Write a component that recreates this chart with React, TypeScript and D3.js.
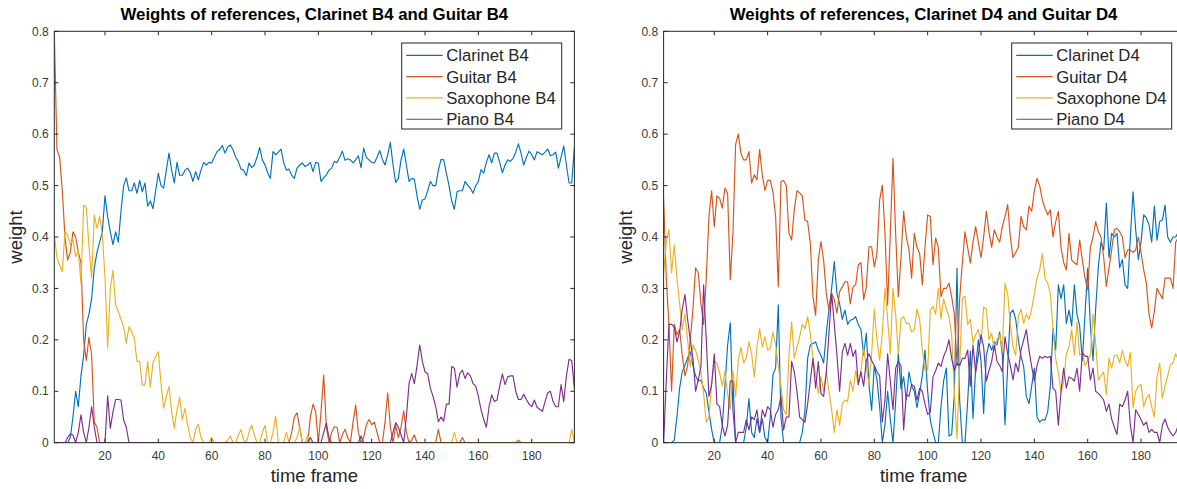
import React from "react";
import * as d3 from "d3";

// ---------- data ----------
const frames: number[] = Array.from({ length: 196 }, (_, i) => i + 1);

const clarinetB4: number[] = [
  0,0,0,0,0,0,0.01,0.05,0.1,0.07,
  0.13,0.17,0.23,0.25,0.28,0.34,0.37,0.39,0.41,0.48,
  0.44,0.41,0.385,0.41,0.39,0.45,0.5,0.515,0.49,0.49,
  0.505,0.485,0.51,0.488,0.505,0.46,0.47,0.455,0.49,0.524,
  0.5,0.495,0.53,0.563,0.53,0.505,0.545,0.52,0.52,0.53,
  0.534,0.525,0.508,0.527,0.511,0.53,0.545,0.54,0.545,0.544,
  0.555,0.566,0.57,0.578,0.563,0.575,0.579,0.57,0.555,0.547,
  0.532,0.53,0.519,0.544,0.535,0.54,0.555,0.574,0.55,0.54,
  0.525,0.514,0.566,0.56,0.565,0.571,0.545,0.53,0.532,0.52,
  0.514,0.534,0.54,0.544,0.537,0.54,0.545,0.527,0.545,0.544,
  0.508,0.515,0.521,0.53,0.534,0.547,0.545,0.555,0.567,0.549,
  0.552,0.55,0.544,0.55,0.558,0.535,0.573,0.555,0.55,0.545,
  0.544,0.555,0.568,0.551,0.54,0.56,0.584,0.54,0.506,0.514,
  0.55,0.571,0.54,0.508,0.514,0.512,0.48,0.454,0.472,0.474,
  0.49,0.508,0.5,0.5,0.53,0.551,0.55,0.524,0.5,0.47,
  0.454,0.488,0.49,0.49,0.508,0.501,0.495,0.485,0.5,0.508,
  0.531,0.524,0.545,0.56,0.544,0.563,0.563,0.545,0.525,0.54,
  0.55,0.547,0.553,0.565,0.581,0.563,0.54,0.555,0.567,0.56,
  0.55,0.566,0.563,0.56,0.565,0.571,0.558,0.56,0.565,0.534,
  0.555,0.577,0.54,0.505,0.505,0.575,
];

const guitarB4: number[] = [
  0.8,0.57,0.555,0.49,0.4,0.355,0.37,0.41,0.4,0.37,
  0.35,0.2,0.16,0.205,0.17,0.04,0.03,0,0,0,
  0,0,0,0,0,0,0,0,0,0,
  0,0,0,0,0,0,0,0,0,0,
  0,0,0,0,0,0,0,0,0,0,
  0,0,0,0,0,0,0,0,0,0,
  0,0,0,0,0,0,0,0,0,0,
  0,0,0,0,0,0,0,0,0,0,
  0,0,0,0,0,0,0,0,0,0.02,
  0.05,0.058,0.03,0,0,0,0.05,0.075,0.06,0,
  0.06,0.132,0.03,0,0.02,0.031,0.03,0,0.015,0.026,
  0.01,0,0.04,0.073,0.02,0,0.01,0.035,0.045,0.035,
  0.04,0.02,0,0,0.04,0.097,0.03,0,0.033,0.01,
  0.03,0.062,0.02,0,0.005,0.015,0,0,0,0,
  0,0,0,0,0.026,0,0,0,0,0,
  0,0,0,0.01,0,0,0,0,0,0,
  0,0,0,0,0,0,0,0,0,0,
  0,0,0,0,0.005,0,0,0,0,0,
  0,0,0,0,0,0,0,0,0,0,
  0,0,0,0,0,0,
];

const saxophoneB4: number[] = [
  0.404,0.36,0.345,0.333,0.41,0.404,0.385,0.394,0.362,0.372,
  0.31,0.462,0.458,0.382,0.32,0.443,0.417,0.44,0.404,0.323,
  0.184,0.3,0.335,0.268,0.255,0.24,0.225,0.193,0.226,0.216,
  0.203,0.158,0.158,0.112,0.112,0.158,0.108,0.155,0.167,0.177,
  0.115,0.067,0.09,0.109,0.06,0.028,0.064,0.088,0.044,0.067,
  0.034,0.01,0,0.026,0.036,0.01,0,0,0,0.01,
  0,0,0,0,0,0.005,0.013,0,0,0.015,
  0.025,0.005,0,0.02,0.034,0.015,0,0,0.02,0.034,
  0,0,0.02,0.052,0,0,0,0.02,0,0,
  0,0.01,0.03,0,0,0.015,0,0,0,0,
  0,0,0,0,0,0,0,0,0,0,
  0,0,0,0,0,0,0,0,0,0,
  0,0,0,0,0,0,0,0,0,0,
  0,0,0,0,0,0,0,0,0,0,
  0,0,0,0,0,0,0,0,0,0,
  0.02,0,0,0,0,0,0,0,0,0,
  0,0,0,0,0,0,0,0,0,0,
  0,0,0,0,0,0,0,0,0,0,
  0,0,0,0,0,0,0,0,0,0,
  0,0,0,0,0.026,0,
];

const pianoB4: number[] = [
  0,0,0,0,0,0.01,0.017,0.015,0,0.02,
  0.054,0.02,0,0.03,0.07,0.03,0,0,0,0,
  0.091,0.028,0.06,0.084,0.084,0.083,0.044,0.03,0,0,
  0,0,0,0,0,0,0,0,0,0,
  0,0,0,0,0,0,0,0,0,0,
  0,0,0,0,0,0,0,0,0,0,
  0,0,0,0,0,0,0,0,0,0,
  0,0,0,0,0,0,0,0,0,0,
  0,0,0,0,0,0,0,0,0,0,
  0,0,0,0,0,0,0.01,0,0,0,
  0,0.02,0.038,0.01,0,0,0,0,0,0,
  0,0,0,0,0,0.013,0,0,0,0,
  0,0,0,0,0,0,0,0.02,0.039,0.03,
  0.015,0,0.05,0.115,0.135,0.115,0.15,0.19,0.158,0.138,
  0.134,0.106,0.09,0.07,0.041,0.05,0.042,0.075,0.075,0.148,
  0.145,0.108,0.134,0.141,0.125,0.136,0.13,0.115,0.11,0.09,
  0.064,0.045,0.03,0.07,0.093,0.08,0.083,0.11,0.134,0.113,
  0.128,0.13,0.13,0.1,0.084,0.084,0.094,0.084,0.075,0.07,
  0.083,0.069,0.065,0.061,0.08,0.097,0.1,0.08,0.07,0.07,
  0.113,0.08,0.13,0.162,0.16,0.105,
];

const clarinetD4: number[] = [
  0,0,0,0,0.005,0.05,0.106,0.138,0.15,0.165,
  0.177,0.15,0.13,0.12,0.122,0.106,0.096,0.06,0.026,0,
  0,0,0.033,0.11,0.19,0.233,0.063,0,0,0,
  0,0.03,0.086,0.02,0.01,0.047,0.02,0.047,0.01,0,
  0.05,0.132,0.145,0.268,0.05,0,0,0,0,0,
  0,0,0.02,0.063,0.164,0.19,0.193,0.196,0.18,0.17,
  0.155,0.213,0.258,0.3,0.352,0.29,0.27,0.24,0.258,0.23,
  0.238,0.24,0.245,0.23,0.22,0.17,0.213,0.113,0.063,0.15,
  0.122,0.07,0,0.035,0.1,0.045,0,0.08,0.173,0.105,
  0.128,0.083,0.138,0.11,0.1,0.068,0.097,0.13,0.18,0.1,
  0.044,0.02,0,0,0.07,0.12,0.145,0.013,0.016,0.094,
  0.339,0.083,0,0,0.08,0.178,0.047,0.145,0.2,0.16,
  0.057,0.17,0.193,0.18,0.196,0.19,0.215,0.17,0.035,0.148,
  0.252,0.258,0.24,0.2,0.168,0.148,0.09,0.076,0.11,0.145,
  0.05,0.04,0.045,0.044,0.06,0.11,0.222,0.18,0.307,0.28,
  0.307,0.232,0.258,0.227,0.307,0.25,0.227,0.16,0.25,0.339,
  0.23,0.16,0.261,0.342,0.39,0.375,0.466,0.36,0.407,0.4,
  0.407,0.34,0.356,0.307,0.3,0.4,0.488,0.414,0.356,0.39,
  0.443,0.437,0.424,0.39,0.46,0.394,0.43,0.433,0.462,0.4,
  0.39,0.4,0.4,0.41,0.4,0.4,
];

const guitarD4: number[] = [
  0.475,0.32,0.23,0.1,0.23,0.21,0.22,0.17,0.13,0.15,
  0.2,0.26,0.34,0.33,0.27,0.23,0.32,0.44,0.49,0.42,
  0.48,0.475,0.456,0.495,0.485,0.317,0.407,0.58,0.6,0.563,
  0.55,0.55,0.566,0.505,0.521,0.511,0.57,0.52,0.49,0.51,
  0.51,0.488,0.44,0.303,0.508,0.51,0.5,0.407,0.394,0.453,
  0.49,0.486,0.48,0.433,0.43,0.388,0.284,0.248,0.355,0.391,
  0.355,0.29,0.258,0.29,0.278,0.252,0.294,0.303,0.313,0.313,
  0.27,0.303,0.307,0.346,0.35,0.278,0.303,0.381,0.381,0.342,
  0.368,0.472,0.501,0.407,0.268,0.407,0.553,0.407,0.284,0.36,
  0.45,0.4,0.375,0.32,0.407,0.38,0.368,0.307,0.38,0.443,
  0.44,0.346,0.398,0.38,0.284,0.3,0.3,0.31,0.284,0.25,
  0.15,0.28,0.35,0.41,0.38,0.349,0.39,0.42,0.39,0.36,
  0.4,0.45,0.41,0.38,0.414,0.4,0.39,0.42,0.44,0.463,
  0.4,0.36,0.37,0.38,0.44,0.42,0.414,0.46,0.45,0.49,
  0.514,0.5,0.472,0.456,0.443,0.453,0.4,0.43,0.45,0.38,
  0.35,0.336,0.407,0.355,0.35,0.346,0.394,0.355,0.32,0.297,
  0.38,0.4,0.43,0.41,0.4,0.36,0.304,0.34,0.375,0.414,
  0.417,0.41,0.4,0.36,0.375,0.375,0.37,0.375,0.4,0.37,
  0.336,0.31,0.25,0.223,0.256,0.3,0.29,0.28,0.32,0.32,
  0.32,0.3,0.39,0.4,0.38,0.39,
];

const saxophoneD4: number[] = [
  0.33,0.39,0.415,0.33,0.385,0.32,0.271,0.22,0.25,0.2,
  0.148,0.19,0.18,0.16,0.138,0.096,0.04,0.05,0.113,0.158,
  0.155,0.136,0.11,0.138,0.094,0.065,0.14,0.09,0.16,0.186,
  0.155,0.164,0.196,0.173,0.128,0.186,0.222,0.186,0.206,0.18,
  0.183,0.215,0.19,0.15,0.11,0.064,0.055,0.17,0.235,0.164,
  0.186,0.206,0.23,0.222,0.245,0.213,0.164,0.133,0.096,0.128,
  0.1,0.138,0.1,0.064,0.02,0.064,0.034,0.075,0.083,0.08,
  0.122,0.1,0.14,0.113,0.14,0.186,0.148,0.113,0.173,0.26,
  0.2,0.16,0.213,0.3,0.24,0.173,0.3,0.25,0.173,0.24,
  0.245,0.232,0.232,0.215,0.22,0.26,0.24,0.18,0.14,0.14,
  0.258,0.265,0.25,0.3,0.24,0.28,0.26,0.245,0.21,0.1,
  0.008,0.148,0.28,0.285,0.23,0.24,0.193,0.21,0.22,0.193,
  0.264,0.26,0.2,0.213,0.18,0.2,0.21,0.18,0.31,0.29,
  0.23,0.186,0.17,0.245,0.26,0.232,0.25,0.24,0.26,0.29,
  0.32,0.336,0.368,0.32,0.31,0.29,0.22,0.164,0.136,0.098,
  0.12,0.173,0.186,0.22,0.17,0.235,0.17,0.176,0.15,0.16,
  0.17,0.25,0.193,0.122,0.13,0.138,0.094,0.164,0.145,0.17,
  0.17,0.155,0.18,0.16,0.148,0.176,0.068,0.1,0.11,0.113,
  0.07,0.086,0.094,0.07,0.05,0.128,0.155,0.086,0.11,0.13,
  0.152,0.155,0.173,0.16,0.16,0.165,
];

const pianoD4: number[] = [
  0,0.12,0.23,0.23,0.225,0.196,0.215,0.26,0.288,0.24,
  0.2,0.164,0.1,0.122,0.148,0.307,0.2,0.09,0.113,0.173,
  0.075,0.07,0.034,0.013,0.034,0.12,0.12,0,0.02,0.02,
  0.02,0.045,0.025,0.05,0.045,0.064,0.02,0.064,0.05,0.07,
  0.064,0.03,0.055,0.064,0.09,0.025,0.05,0.05,0.158,0.138,
  0.1,0.05,0.045,0.04,0.075,0.12,0.164,0.106,0.158,0.096,
  0.09,0.136,0.213,0.29,0.23,0.17,0.1,0.176,0.193,0.17,
  0.193,0.168,0.18,0.113,0.138,0.11,0.16,0.173,0.16,0.15,
  0.138,0.13,0.04,0.083,0.173,0.12,0.064,0.145,0.158,0.15,
  0.025,0.094,0.09,0.113,0.11,0.083,0.106,0.1,0.075,0.055,
  0.06,0.128,0.14,0.155,0.148,0.168,0.18,0.2,0.164,0.14,
  0.155,0.15,0.164,0.164,0.18,0.11,0.19,0.136,0.17,0.21,
  0.186,0.12,0.14,0.158,0.19,0.158,0.15,0.138,0.206,0.173,
  0.15,0.122,0.155,0.138,0.18,0.2,0.22,0.18,0.148,0.12,
  0.15,0.168,0.164,0.168,0.165,0.168,0.106,0.1,0.034,0.1,
  0.145,0.106,0.128,0.125,0.12,0.145,0.1,0.176,0.168,0.168,
  0.122,0.145,0.1,0.096,0.09,0.083,0.061,0.075,0.046,0.03,
  0.016,0.075,0.07,0.083,0.1,0.034,0,0.064,0.055,0.045,
  0.034,0.04,0.02,0.026,0.02,0.02,0,0.034,0.046,0.03,
  0.02,0.013,0.02,0.035,0.03,0.03,
];

const xTicks: number[] = [20, 40, 60, 80, 100, 120, 140, 160, 180];
const yTicks: number[] = [0, 0.1, 0.2, 0.3, 0.4, 0.5, 0.6, 0.7, 0.8];
const seriesColors: string[] = ["#0072BD", "#D95319", "#EDB120", "#7E2F8E"];
const leftNames: string[] = ["Clarinet B4", "Guitar B4", "Saxophone B4", "Piano B4"];
const rightNames: string[] = ["Clarinet D4", "Guitar D4", "Saxophone D4", "Piano D4"];
const leftTitle = "Weights of references, Clarinet B4 and Guitar B4";
const rightTitle = "Weights of references, Clarinet D4 and Guitar D4";
const xLabel = "time frame";
const yLabel = "weight";

const FONT = "'Liberation Sans', Arial, Helvetica, sans-serif";
const AX = "#262626";

type PanelProps = {
  id: string;
  left: number;
  series: number[][];
  names: string[];
  title: string;
  legendX: number;
};

function Panel({ id, left, series, names, title, legendX }: PanelProps) {
  const width = 520.1;
  const top = 31.3;
  const bottom = 442.7;
  const x = d3.scaleLinear().domain([1, 196]).range([left, left + width]);
  const y = d3.scaleLinear().domain([0, 0.8]).range([bottom, top]);
  const line = d3
    .line<number>()
    .x((_, i) => x(frames[i]))
    .y((d) => y(d));
  const cx = (left + left + width) / 2;
  const tl = 4;
  const lgTop = 43;
  const lgH = 86;
  const lgW = 160;
  const rowH = 21.3;

  return (
    <g>
      <defs>
        <clipPath id={`clip-${id}`}>
          <rect x={left} y={top} width={width} height={bottom - top} />
        </clipPath>
      </defs>
      <g clipPath={`url(#clip-${id})`}>
        {series.map((s, k) => (
          <path
            key={k}
            d={line(s) || ""}
            fill="none"
            stroke={seriesColors[k]}
            strokeWidth={1.15}
            strokeLinejoin="round"
          />
        ))}
      </g>
      {/* axes box */}
      <rect
        x={left}
        y={top}
        width={width}
        height={bottom - top}
        fill="none"
        stroke={AX}
        strokeWidth={1}
      />
      {xTicks.map((t) => (
        <g key={`xt${t}`}>
          <line x1={x(t)} x2={x(t)} y1={bottom} y2={bottom - tl} stroke={AX} />
          <line x1={x(t)} x2={x(t)} y1={top} y2={top + tl} stroke={AX} />
          <text
            x={x(t)}
            y={bottom + 17}
            textAnchor="middle"
            fontFamily={FONT}
            fontSize={12}
            fill="#3a3a3a"
          >
            {t}
          </text>
        </g>
      ))}
      {yTicks.map((t) => (
        <g key={`yt${t}`}>
          <line x1={left} x2={left + tl} y1={y(t)} y2={y(t)} stroke={AX} />
          <line x1={left + width} x2={left + width - tl} y1={y(t)} y2={y(t)} stroke={AX} />
          <text
            x={left - 5.5}
            y={y(t) + 4.2}
            textAnchor="end"
            fontFamily={FONT}
            fontSize={12}
            fill="#3a3a3a"
          >
            {t === 0 ? "0" : d3.format(".1f")(t)}
          </text>
        </g>
      ))}
      <text
        x={cx}
        y={20}
        textAnchor="middle"
        fontFamily={FONT}
        fontSize={16.8}
        fontWeight="bold"
        fill="#000"
      >
        {title}
      </text>
      <text
        x={cx}
        y={482}
        textAnchor="middle"
        fontFamily={FONT}
        fontSize={18.5}
        fill={AX}
      >
        {xLabel}
      </text>
      <text
        transform={`translate(${left - 32},${(top + bottom) / 2}) rotate(-90)`}
        textAnchor="middle"
        fontFamily={FONT}
        fontSize={18.5}
        fill={AX}
      >
        {yLabel}
      </text>
      {/* legend */}
      <rect
        x={legendX}
        y={lgTop}
        width={lgW}
        height={lgH}
        fill="#fff"
        stroke={AX}
        strokeWidth={1}
      />
      {names.map((n, k) => {
        const ry = lgTop + 12.3 + k * rowH;
        return (
          <g key={n}>
            <line
              x1={legendX + 4.5}
              x2={legendX + 41}
              y1={ry}
              y2={ry}
              stroke={seriesColors[k]}
              strokeWidth={1.15}
            />
            <text
              x={legendX + 44.5}
              y={ry + 5.9}
              fontFamily={FONT}
              fontSize={16.7}
              fill={AX}
            >
              {n}
            </text>
          </g>
        );
      })}
    </g>
  );
}

export default function App() {
  return (
    <svg
      width={1177}
      height={489}
      style={{ position: "absolute", left: 0, top: 0, background: "#fff" }}
    >
      <rect x={0} y={0} width={1177} height={489} fill="#fff" />
      <Panel
        id="l"
        left={54.3}
        series={[clarinetB4, guitarB4, saxophoneB4, pianoB4]}
        names={leftNames}
        title={leftTitle}
        legendX={401.7}
      />
      <Panel
        id="r"
        left={663.6}
        series={[clarinetD4, guitarD4, saxophoneD4, pianoD4]}
        names={rightNames}
        title={rightTitle}
        legendX={1011.7}
      />
    </svg>
  );
}
